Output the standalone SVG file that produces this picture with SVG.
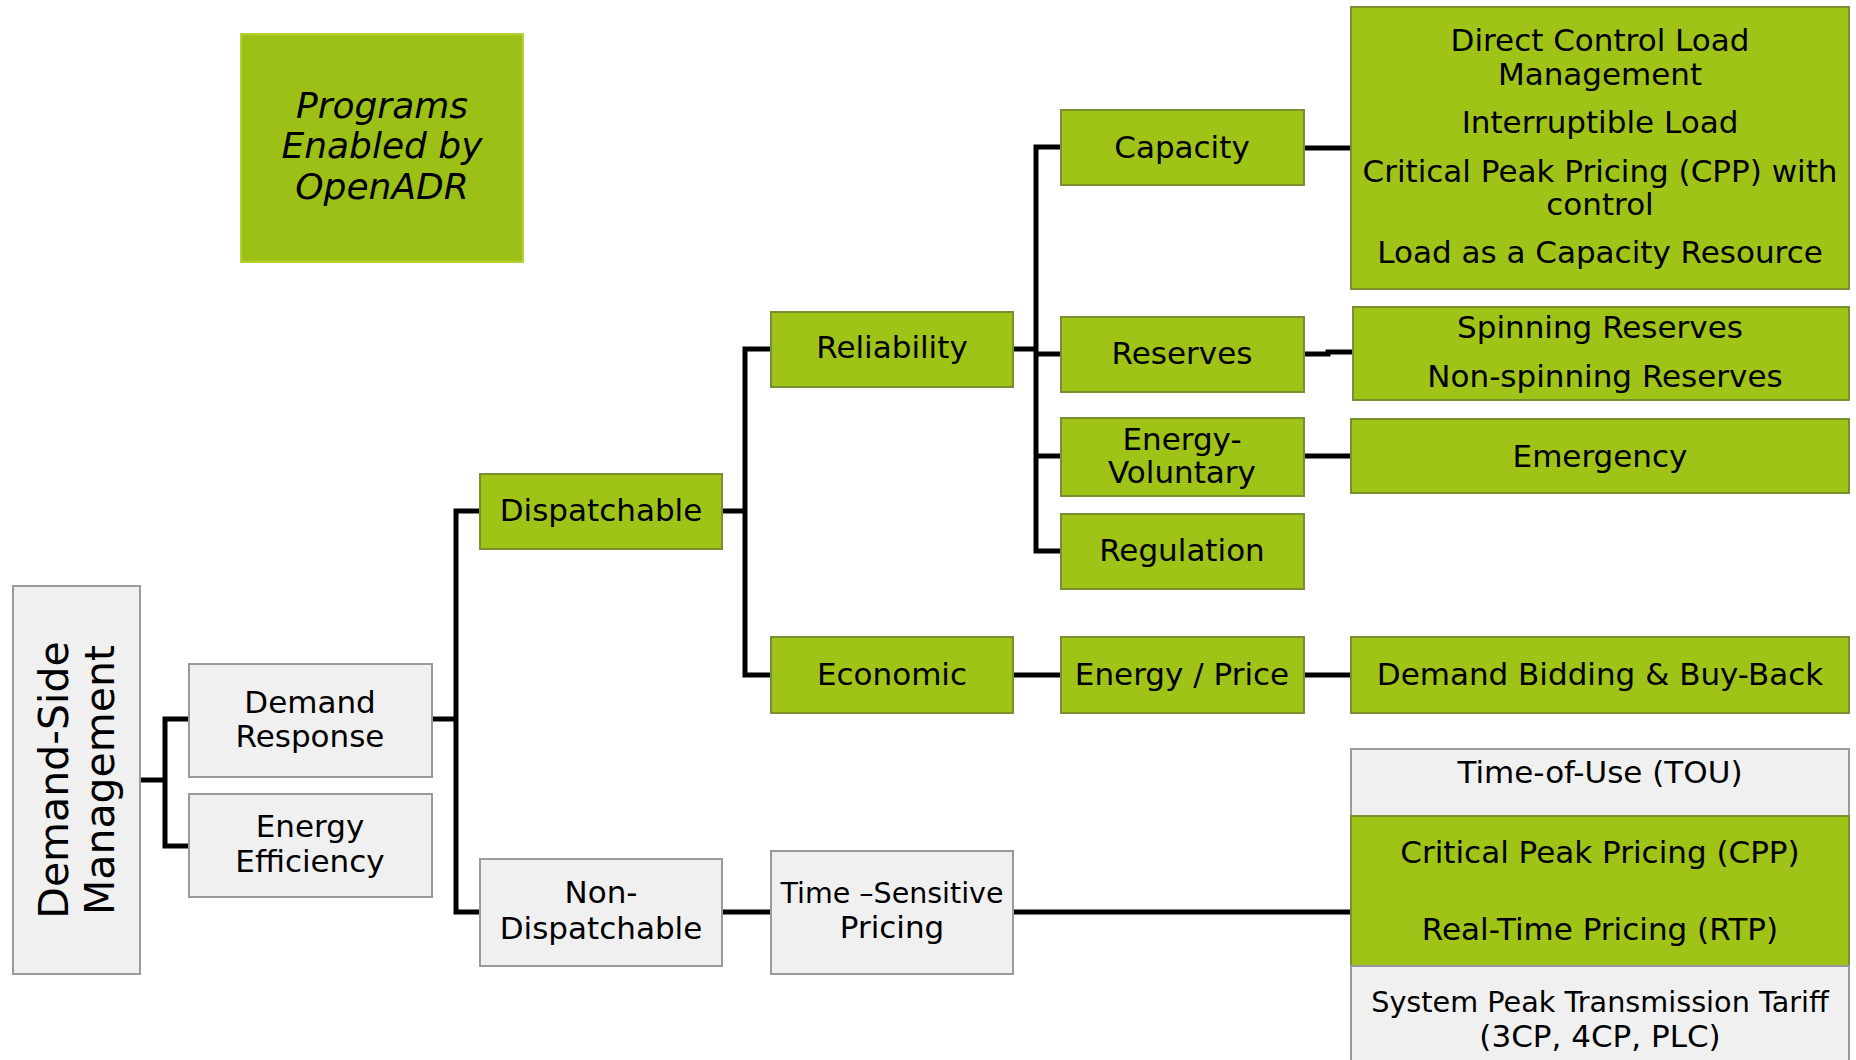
<svg xmlns="http://www.w3.org/2000/svg" width="1856" height="1060" viewBox="0 0 1856 1060">
<style>
.g{fill:#9FC316;stroke:#7A8F30;stroke-width:2}
.w{fill:#F0F0F0;stroke:#9A9A9A;stroke-width:2}
.p{fill:#9CC016;stroke:#B4D233;stroke-width:2}
text{font-family:"DejaVu Sans","Liberation Sans",sans-serif;font-size:31px;fill:#000;text-anchor:middle}
.it{font-style:italic;font-size:36px}
.big{font-size:41px}
.conn{fill:none;stroke:#000;stroke-width:5;stroke-linejoin:miter;stroke-linecap:butt}
</style>
<rect width="1856" height="1060" fill="#fff"/>
<g id="connectors" class="conn">
<path d="M140,780 H165 M189,719 H165 V846 H189"/>
<path d="M432,719 H456 M480,511 H456 V912 H480"/>
<path d="M722,511 H745 M771,349 H745 V675 H771"/>
<path d="M1013,349 H1036 M1061,147 H1036 V551 H1061 M1036,354 H1061 M1036,456 H1061"/>
<path d="M1304,148 H1351"/>
<path d="M1304,354 H1328 V352 H1353"/>
<path d="M1304,456 H1351"/>
<path d="M1013,675 H1061 M1304,675 H1351"/>
<path d="M722,912 H771 M1013,912 H1351"/>
</g>
<g id="programs"><rect class="p" x="241" y="34" width="282" height="228"/>
<text class="it" x="382" y="118">Programs</text><text class="it" x="382" y="158">Enabled by</text><text class="it" x="382" y="199">OpenADR</text></g>
<g id="dsm"><rect class="w" x="13" y="586" width="127" height="388"/>
<g transform="translate(0,780) rotate(-90)"><text class="big" x="0" y="68">Demand-Side</text><text class="big" x="0" y="114">Management</text></g></g>
<g id="demand-response"><rect class="w" x="189" y="664" width="243" height="113"/>
<text x="310" y="713">Demand</text><text x="310" y="747">Response</text></g>
<g id="energy-efficiency"><rect class="w" x="189" y="794" width="243" height="103"/>
<text x="310" y="837">Energy</text><text x="310" y="872">Efficiency</text></g>
<g id="dispatchable"><rect class="g" x="480" y="474" width="242" height="75"/>
<text x="601" y="521">Dispatchable</text></g>
<g id="non-dispatchable"><rect class="w" x="480" y="859" width="242" height="107"/>
<text x="601" y="903">Non-</text><text x="601" y="939">Dispatchable</text></g>
<g id="reliability"><rect class="g" x="771" y="312" width="242" height="75"/>
<text x="892" y="358">Reliability</text></g>
<g id="economic"><rect class="g" x="771" y="637" width="242" height="76"/>
<text x="892" y="685">Economic</text></g>
<g id="time-sensitive"><rect class="w" x="771" y="851" width="242" height="123"/>
<text x="892" y="903" style="font-size:28.5px">Time –Sensitive</text><text x="892" y="938">Pricing</text></g>
<g id="capacity"><rect class="g" x="1061" y="110" width="243" height="75"/>
<text x="1182" y="158">Capacity</text></g>
<g id="reserves"><rect class="g" x="1061" y="317" width="243" height="75"/>
<text x="1182" y="364">Reserves</text></g>
<g id="energy-voluntary"><rect class="g" x="1061" y="418" width="243" height="78"/>
<text x="1182" y="450">Energy-</text><text x="1182" y="483">Voluntary</text></g>
<g id="regulation"><rect class="g" x="1061" y="514" width="243" height="75"/>
<text x="1182" y="561">Regulation</text></g>
<g id="energy-price"><rect class="g" x="1061" y="637" width="243" height="76"/>
<text x="1182" y="685">Energy / Price</text></g>
<g id="capacity-programs"><rect class="g" x="1351" y="7" width="498" height="282"/>
<text x="1600" y="51">Direct Control Load</text><text x="1600" y="85">Management</text>
<text x="1600" y="133">Interruptible Load</text>
<text x="1600" y="182">Critical Peak Pricing (CPP) with</text><text x="1600" y="215">control</text>
<text x="1600" y="263">Load as a Capacity Resource</text></g>
<g id="reserve-programs"><rect class="g" x="1353" y="307" width="496" height="93"/>
<text x="1600" y="338">Spinning Reserves</text><text x="1605" y="387">Non-spinning Reserves</text></g>
<g id="emergency"><rect class="g" x="1351" y="419" width="498" height="74"/>
<text x="1600" y="467">Emergency</text></g>
<g id="demand-bidding"><rect class="g" x="1351" y="637" width="498" height="76"/>
<text x="1600" y="685">Demand Bidding &amp; Buy-Back</text></g>
<g id="tou"><rect class="w" x="1351" y="749" width="498" height="67"/>
<text x="1600" y="783">Time-of-Use (TOU)</text></g>
<g id="cpp-rtp"><rect class="g" x="1351" y="816" width="498" height="150"/>
<text x="1600" y="863">Critical Peak Pricing (CPP)</text><text x="1600" y="940">Real-Time Pricing (RTP)</text></g>
<g id="system-peak"><rect x="1351" y="966" width="498" height="94" fill="#F0F0F0"/>
<path d="M1351,1060 V966 H1849 V1060" fill="none" stroke="#9A9A9A" stroke-width="2"/>
<text x="1600" y="1012" style="font-size:28.7px">System Peak Transmission Tariff</text><text x="1600" y="1047">(3CP, 4CP, PLC)</text></g>
</svg>
